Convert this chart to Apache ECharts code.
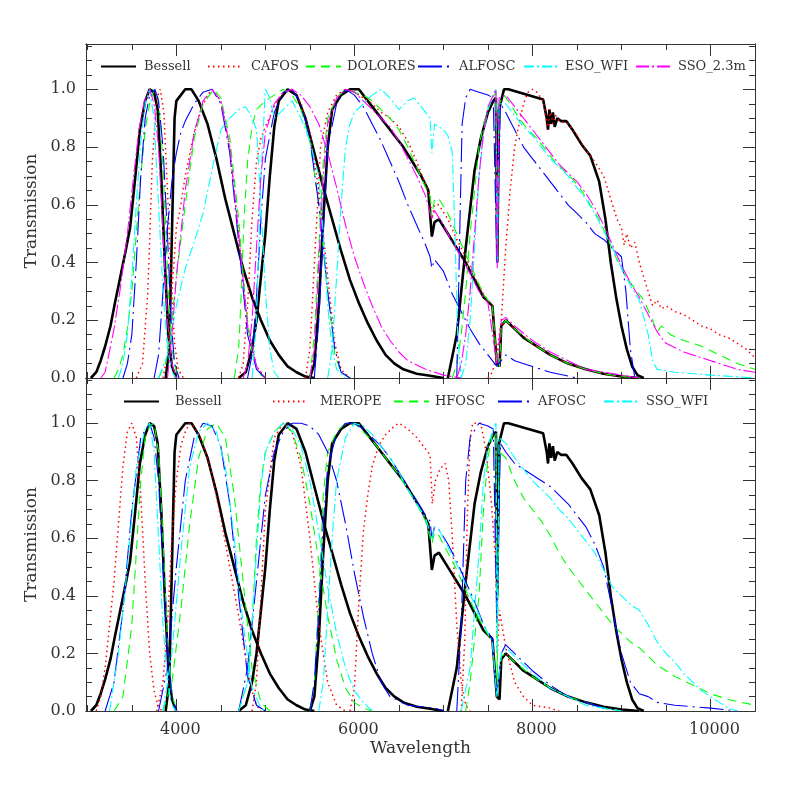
<!DOCTYPE html>
<html><head><meta charset="utf-8">
<script src="https://cdn.jsdelivr.net/npm/echarts@6/dist/echarts.min.js"></script>
<style>html,body{margin:0;padding:0;background:#fff}#c{width:797px;height:797px}</style>
</head><body><div id="c"></div><script>
// ---------- Bessell (both panels) ----------
const bessU=[[3040,0],[3100,0.02],[3150,0.06],[3200,0.11],[3260,0.18],[3310,0.26],[3370,0.35],[3430,0.44],[3480,0.52],[3540,0.70],[3590,0.86],[3650,0.96],[3700,1.0],[3750,0.99],[3790,0.93],[3830,0.7],[3870,0.4],[3910,0.15],[3950,0.04],[4000,0]];
const bessB=[[3880,0],[3920,0.1],[3950,0.5],[3980,0.9],[4000,0.96],[4050,0.98],[4100,1.0],[4170,1.0],[4250,0.96],[4350,0.88],[4450,0.76],[4550,0.62],[4650,0.5],[4750,0.38],[4850,0.28],[4950,0.2],[5050,0.13],[5150,0.08],[5250,0.04],[5350,0.02],[5450,0.005],[5550,0]];
const bessV=[[4700,0],[4780,0.02],[4850,0.1],[4900,0.2],[4950,0.35],[5000,0.5],[5050,0.7],[5100,0.87],[5150,0.96],[5250,1.0],[5350,0.98],[5450,0.9],[5550,0.78],[5650,0.66],[5750,0.55],[5850,0.44],[5950,0.34],[6050,0.26],[6150,0.19],[6250,0.13],[6350,0.08],[6450,0.05],[6550,0.03],[6700,0.015],[6850,0.008],[7000,0]];
const bessR=[[5500,0],[5550,0.05],[5600,0.25],[5650,0.55],[5700,0.8],[5750,0.93],[5850,0.98],[5950,1.0],[6050,1.0],[6150,0.96],[6250,0.92],[6350,0.88],[6450,0.84],[6550,0.8],[6650,0.75],[6750,0.7],[6830,0.65],[6870,0.49],[6900,0.54],[6950,0.55],[7050,0.5],[7150,0.45],[7250,0.4],[7350,0.34],[7450,0.28],[7550,0.25],[7600,0.05],[7630,0.04],[7650,0.18],[7700,0.2],[7800,0.17],[7900,0.14],[8000,0.12],[8200,0.08],[8400,0.05],[8600,0.03],[8800,0.015],[9000,0.005],[9200,0]];
const bessI=[[7050,0],[7150,0.15],[7250,0.45],[7350,0.72],[7420,0.83],[7500,0.92],[7560,0.96],[7590,0.97],[7605,0.4],[7625,0.93],[7680,1.0],[7730,1.0],[8120,0.965],[8160,0.9],[8175,0.86],[8190,0.93],[8210,0.88],[8230,0.92],[8250,0.87],[8280,0.9],[8320,0.89],[8380,0.89],[8450,0.86],[8550,0.81],[8650,0.77],[8750,0.68],[8820,0.55],[8880,0.4],[8940,0.28],[9000,0.18],[9060,0.1],[9120,0.04],[9180,0.01],[9250,0]];
// ---------- CAFOS ----------
const cafU=[[3550,0],[3620,0.05],[3680,0.3],[3730,0.75],[3780,0.97],[3820,1.0],[3860,0.92],[3900,0.65],[3940,0.35],[3980,0.12],[4020,0.03],[4080,0]];
const cafB=[[3850,0],[3900,0.08],[3950,0.3],[4000,0.52],[4050,0.6],[4100,0.7],[4200,0.85],[4300,0.95],[4400,1.0],[4500,0.96],[4600,0.8],[4700,0.5],[4800,0.18],[4900,0.04],[5000,0]];
const cafV=[[4700,0],[4750,0.05],[4800,0.25],[4850,0.55],[4900,0.75],[4950,0.83],[5000,0.87],[5100,0.94],[5200,0.99],[5300,1.0],[5400,0.95],[5500,0.85],[5600,0.65],[5700,0.35],[5780,0.12],[5850,0.03],[5950,0]];
const cafR=[[5450,0],[5500,0.1],[5560,0.45],[5620,0.8],[5700,0.92],[5800,0.98],[5900,1.0],[6000,0.99],[6100,0.97],[6200,0.95],[6300,0.92],[6400,0.9],[6500,0.87],[6600,0.82],[6700,0.75],[6800,0.67],[6850,0.63],[6870,0.55],[6900,0.6],[6950,0.6],[7050,0.55],[7150,0.48],[7250,0.42],[7350,0.35],[7450,0.29],[7550,0.25],[7600,0.05],[7630,0.04],[7650,0.18],[7700,0.2],[7800,0.17],[8000,0.12],[8200,0.08],[8400,0.05],[8600,0.03],[8800,0.015],[9000,0.005],[9200,0]];
const cafI=[[7500,0],[7550,0.02],[7600,0.08],[7650,0.2],[7700,0.45],[7750,0.65],[7800,0.8],[7850,0.88],[7900,0.95],[7950,0.99],[8000,1.0],[8050,0.99],[8120,0.96],[8175,0.86],[8200,0.93],[8230,0.88],[8260,0.91],[8300,0.89],[8400,0.88],[8500,0.84],[8600,0.79],[8700,0.75],[8800,0.7],[8900,0.6],[8950,0.55],[9000,0.52],[9030,0.46],[9060,0.5],[9100,0.45],[9150,0.47],[9200,0.4],[9250,0.35],[9300,0.3],[9350,0.25],[9400,0.27],[9450,0.24],[9500,0.25],[9600,0.23],[9700,0.22],[9800,0.2],[9900,0.18],[10000,0.17],[10100,0.15],[10200,0.14],[10300,0.12],[10400,0.1],[10500,0.07]];
// ---------- DOLORES ----------
const dolU=[[3300,0],[3350,0.03],[3400,0.08],[3450,0.17],[3500,0.3],[3550,0.5],[3600,0.7],[3650,0.86],[3700,0.95],[3750,1.0],[3790,0.98],[3830,0.85],[3870,0.6],[3910,0.3],[3950,0.1],[4000,0.02],[4050,0]];
const dolB=[[3800,0],[3880,0.05],[3950,0.2],[4000,0.35],[4100,0.6],[4200,0.83],[4300,0.95],[4420,1.0],[4500,0.97],[4600,0.83],[4700,0.55],[4780,0.25],[4850,0.08],[4950,0.01],[5000,0]];
const dolV=[[4650,0],[4700,0.1],[4730,0.3],[4760,0.55],[4800,0.75],[4850,0.87],[4900,0.93],[5000,0.96],[5100,0.98],[5200,1.0],[5300,0.98],[5400,0.93],[5500,0.82],[5600,0.6],[5700,0.3],[5780,0.08],[5850,0.02],[5950,0]];
const dolR=[[5500,0],[5550,0.15],[5600,0.45],[5650,0.75],[5700,0.9],[5800,0.97],[5900,1.0],[6000,0.99],[6100,0.98],[6200,0.96],[6300,0.93],[6400,0.9],[6500,0.86],[6600,0.8],[6700,0.73],[6800,0.66],[6850,0.63],[6870,0.56],[6900,0.62],[6950,0.62],[7050,0.57],[7150,0.5],[7250,0.43],[7350,0.36],[7450,0.29],[7550,0.25],[7600,0.05],[7630,0.04],[7650,0.18],[7700,0.2],[7800,0.17],[8000,0.12],[8200,0.08],[8400,0.05],[8600,0.03],[8800,0.015],[9000,0.005],[9200,0]];
const dolI=[[7100,0],[7150,0.05],[7200,0.15],[7250,0.3],[7300,0.5],[7350,0.65],[7400,0.8],[7450,0.88],[7500,0.93],[7550,0.97],[7590,0.99],[7605,0.4],[7625,0.95],[7680,0.98],[7750,0.95],[7850,0.9],[7950,0.86],[8050,0.83],[8150,0.79],[8250,0.75],[8350,0.72],[8450,0.69],[8550,0.65],[8650,0.6],[8750,0.55],[8850,0.48],[8950,0.41],[9050,0.35],[9150,0.31],[9250,0.27],[9350,0.2],[9400,0.16],[9450,0.18],[9550,0.15],[9700,0.13],[9900,0.11],[10100,0.08],[10300,0.05],[10500,0.03]];
// ---------- ALFOSC ----------
const alfU=[[3400,0],[3450,0.05],[3500,0.15],[3550,0.4],[3600,0.7],[3650,0.9],[3700,0.98],[3760,1.0],[3800,0.96],[3850,0.8],[3900,0.5],[3940,0.2],[3980,0.05],[4030,0]];
const alfB=[[3750,0],[3800,0.08],[3850,0.3],[3900,0.52],[3950,0.68],[4000,0.78],[4050,0.85],[4100,0.89],[4200,0.95],[4300,0.99],[4400,1.0],[4500,0.95],[4600,0.78],[4700,0.47],[4800,0.15],[4900,0.03],[5000,0]];
const alfV=[[4800,0],[4850,0.08],[4900,0.28],[4950,0.55],[5000,0.76],[5100,0.92],[5200,0.99],[5300,1.0],[5400,0.95],[5500,0.83],[5600,0.6],[5700,0.3],[5780,0.1],[5850,0.02],[5950,0]];
const alfR=[[5550,0],[5600,0.2],[5650,0.5],[5700,0.8],[5800,0.95],[5900,1.0],[6000,0.98],[6100,0.94],[6200,0.88],[6300,0.82],[6400,0.75],[6500,0.68],[6600,0.6],[6700,0.53],[6800,0.46],[6850,0.42],[6870,0.38],[6900,0.41],[7000,0.37],[7100,0.29],[7200,0.23],[7300,0.17],[7400,0.12],[7500,0.08],[7600,0.04],[7700,0.08],[7800,0.06],[8000,0.04],[8200,0.02],[8500,0]];
const alfI=[[7150,0],[7170,0.3],[7190,0.6],[7210,0.88],[7250,0.97],[7300,1.0],[7400,0.99],[7500,0.98],[7560,0.97],[7600,0.4],[7640,0.95],[7700,0.92],[7800,0.86],[7900,0.8],[8000,0.76],[8100,0.72],[8200,0.68],[8300,0.64],[8400,0.6],[8500,0.57],[8600,0.54],[8700,0.5],[8800,0.48],[8900,0.45],[9000,0.42],[9050,0.3],[9100,0.1],[9150,0]];
// ---------- ESO_WFI ----------
const esoU=[[3350,0],[3400,0.05],[3450,0.15],[3500,0.35],[3550,0.6],[3600,0.82],[3650,0.95],[3700,1.0],[3750,0.9],[3800,0.6],[3850,0.3],[3900,0.1],[3950,0.02],[4000,0]];
const esoB=[[3800,0],[3900,0.08],[4000,0.25],[4100,0.38],[4200,0.47],[4300,0.57],[4400,0.72],[4500,0.86],[4600,0.9],[4700,0.93],[4780,0.94],[4850,0.9],[4900,0.86],[4950,0.6],[5000,0.3],[5050,0.1],[5100,0.02],[5150,0]];
const esoV=[[4850,0],[4900,0.2],[4950,0.7],[5000,1.0],[5050,0.97],[5100,0.9],[5200,0.93],[5300,0.96],[5400,0.9],[5500,0.82],[5600,0.7],[5650,0.5],[5700,0.25],[5750,0.1],[5800,0.03],[5900,0]];
const esoR=[[5700,0],[5750,0.1],[5800,0.35],[5850,0.6],[5900,0.8],[5950,0.88],[6000,0.92],[6100,0.95],[6200,0.98],[6300,1.0],[6400,0.97],[6500,0.93],[6600,0.96],[6670,0.97],[6750,0.94],[6850,0.9],[6870,0.78],[6900,0.88],[7000,0.86],[7050,0.84],[7100,0.78],[7130,0.5],[7160,0.15],[7200,0]];
const esoI=[[7200,0],[7250,0.05],[7300,0.2],[7350,0.45],[7400,0.7],[7450,0.85],[7500,0.93],[7560,0.98],[7590,1.0],[7605,0.4],[7625,0.95],[7700,0.95],[7800,0.91],[7900,0.87],[8000,0.84],[8100,0.8],[8200,0.76],[8300,0.73],[8400,0.7],[8500,0.66],[8600,0.62],[8700,0.57],[8800,0.51],[8900,0.45],[9000,0.38],[9100,0.32],[9200,0.27],[9300,0.15],[9350,0.06],[9400,0.03],[9600,0.02],[10000,0.01],[10500,0]];
// ---------- SSO_2.3m ----------
const ssoU=[[3150,0],[3200,0.02],[3300,0.17],[3370,0.31],[3450,0.5],[3520,0.7],[3580,0.86],[3640,0.96],[3700,1.0],[3750,0.95],[3800,0.8],[3850,0.5],[3900,0.2],[3950,0.05],[4000,0]];
const ssoB=[[3900,0],[3950,0.15],[4000,0.35],[4100,0.65],[4200,0.85],[4300,0.96],[4400,1.0],[4500,0.96],[4600,0.8],[4700,0.5],[4800,0.18],[4900,0.04],[5000,0]];
const ssoV=[[4750,0],[4800,0.05],[4850,0.2],[4900,0.45],[4950,0.7],[5000,0.85],[5100,0.95],[5200,0.99],[5300,1.0],[5400,0.98],[5500,0.94],[5600,0.88],[5700,0.78],[5800,0.66],[5900,0.53],[6000,0.42],[6100,0.33],[6200,0.25],[6300,0.18],[6400,0.13],[6500,0.09],[6600,0.06],[6800,0.03],[7000,0.01],[7200,0]];
const ssoR=[[5500,0],[5550,0.1],[5600,0.4],[5650,0.7],[5700,0.88],[5800,0.97],[5900,1.0],[6000,0.99],[6100,0.96],[6200,0.93],[6300,0.9],[6400,0.87],[6500,0.82],[6600,0.76],[6700,0.7],[6800,0.63],[6870,0.55],[6900,0.58],[7000,0.53],[7100,0.47],[7200,0.42],[7300,0.36],[7400,0.3],[7500,0.26],[7600,0.05],[7650,0.2],[7700,0.21],[7800,0.18],[8000,0.13],[8200,0.09],[8400,0.06],[8600,0.03],[8800,0.02],[9000,0.01],[9200,0]];
const ssoI=[[7150,0],[7200,0.05],[7250,0.15],[7300,0.3],[7350,0.5],[7400,0.7],[7450,0.85],[7500,0.94],[7560,0.98],[7590,1.0],[7605,0.38],[7625,0.97],[7700,0.98],[7800,0.94],[7900,0.9],[8000,0.86],[8100,0.82],[8200,0.78],[8300,0.74],[8400,0.71],[8500,0.68],[8600,0.64],[8700,0.59],[8800,0.53],[8900,0.46],[9000,0.39],[9100,0.33],[9200,0.28],[9300,0.22],[9400,0.16],[9500,0.12],[9700,0.09],[9900,0.07],[10100,0.05],[10300,0.03],[10500,0.02]];
// ---------- MEROPE ----------
const merU=[[3100,0],[3150,0.05],[3200,0.15],[3300,0.45],[3400,0.85],[3450,0.97],[3500,1.0],[3550,0.95],[3600,0.75],[3650,0.45],[3700,0.2],[3750,0.07],[3800,0.01],[3850,0]];
const merB=[[3780,0],[3850,0.1],[3900,0.3],[3950,0.6],[4000,0.8],[4050,0.92],[4100,0.97],[4150,1.0],[4200,0.99],[4300,0.93],[4400,0.82],[4500,0.67],[4600,0.5],[4700,0.33],[4800,0.15],[4850,0.07],[4900,0.02],[4950,0]];
const merV=[[4850,0],[4900,0.1],[4950,0.4],[5000,0.7],[5100,0.95],[5200,1.0],[5300,0.97],[5400,0.85],[5500,0.6],[5600,0.3],[5700,0.1],[5800,0.02],[5900,0]];
const merR=[[5950,0],[6000,0.08],[6050,0.38],[6100,0.62],[6150,0.75],[6200,0.85],[6270,0.92],[6350,0.96],[6450,0.99],[6500,1.0],[6600,0.98],[6700,0.95],[6800,0.91],[6850,0.89],[6875,0.72],[6910,0.8],[6960,0.84],[7020,0.86],[7060,0.8],[7100,0.6],[7150,0.3],[7200,0.1],[7250,0.02],[7300,0]];
const merI=[[7200,0],[7240,0.25],[7270,0.7],[7300,0.95],[7330,1.0],[7420,1.0],[7480,0.9],[7540,0.72],[7590,0.5],[7605,0.2],[7630,0.35],[7700,0.22],[7800,0.1],[7900,0.05],[8000,0.02],[8200,0.01],[8300,0]];
// ---------- HFOSC ----------
const hfU=[[3300,0],[3400,0.05],[3500,0.3],[3550,0.55],[3600,0.8],[3650,0.95],[3700,0.99],[3750,1.0],[3800,0.9],[3850,0.6],[3900,0.25],[3950,0.06],[4000,0]];
const hfB=[[3850,0],[3950,0.1],[4050,0.35],[4150,0.65],[4250,0.88],[4350,0.98],[4450,1.0],[4550,0.95],[4650,0.75],[4750,0.45],[4850,0.15],[4950,0.03],[5050,0]];
const hfV=[[4700,0],[4800,0.1],[4850,0.3],[4900,0.6],[4950,0.8],[5000,0.9],[5100,0.97],[5200,1.0],[5300,0.97],[5400,0.88],[5500,0.72],[5600,0.52],[5700,0.33],[5800,0.18],[5900,0.08],[6000,0.03],[6100,0.01],[6200,0]];
const hfR=[[5500,0],[5550,0.1],[5600,0.4],[5650,0.75],[5700,0.9],[5800,0.97],[5900,1.0],[6000,1.0],[6100,0.97],[6200,0.94],[6300,0.9],[6400,0.86],[6500,0.82],[6600,0.77],[6700,0.72],[6800,0.66],[6870,0.58],[6900,0.62],[6950,0.61],[7050,0.55],[7150,0.49],[7250,0.42],[7350,0.35],[7450,0.29],[7550,0.24],[7600,0.05],[7650,0.19],[7700,0.2],[7800,0.17],[8000,0.12],[8200,0.08],[8400,0.05],[8600,0.03],[8800,0.01],[9000,0]];
const hfI=[[7250,0],[7300,0.1],[7400,0.4],[7450,0.7],[7500,0.88],[7550,0.96],[7590,0.97],[7605,0.1],[7625,0.9],[7700,0.88],[7800,0.8],[7900,0.74],[8000,0.7],[8100,0.66],[8200,0.61],[8300,0.55],[8400,0.5],[8500,0.46],[8600,0.42],[8700,0.38],[8800,0.34],[8900,0.3],[9000,0.27],[9100,0.24],[9200,0.22],[9300,0.19],[9400,0.16],[9600,0.12],[9800,0.09],[10000,0.06],[10200,0.04],[10500,0.02]];
// ---------- AFOSC ----------
const afU=[[3200,0],[3300,0.1],[3400,0.35],[3500,0.7],[3600,0.95],[3700,1.0],[3750,0.95],[3800,0.8],[3850,0.5],[3900,0.2],[3950,0.05],[4000,0]];
const afB=[[3800,0],[3900,0.15],[4000,0.5],[4100,0.8],[4200,0.95],[4300,1.0],[4400,0.99],[4500,0.92],[4600,0.72],[4700,0.4],[4800,0.12],[4900,0.02],[5000,0]];
const afV=[[4700,0],[4800,0.15],[4900,0.45],[5000,0.75],[5100,0.9],[5200,0.97],[5300,1.0],[5400,1.0],[5500,0.99],[5600,0.96],[5700,0.9],[5800,0.8],[5900,0.65],[6000,0.48],[6100,0.33],[6200,0.2],[6300,0.1],[6400,0.05],[6600,0.02],[6900,0.01],[7000,0]];
const afR=[[5500,0],[5550,0.1],[5600,0.35],[5650,0.65],[5700,0.85],[5800,0.96],[5900,1.0],[6000,1.0],[6100,0.98],[6200,0.95],[6300,0.92],[6400,0.88],[6500,0.83],[6600,0.78],[6700,0.73],[6800,0.68],[6850,0.66],[6870,0.6],[6900,0.64],[6950,0.63],[7050,0.58],[7150,0.52],[7250,0.45],[7350,0.38],[7450,0.3],[7550,0.25],[7600,0.05],[7650,0.2],[7700,0.23],[7800,0.2],[8000,0.14],[8200,0.09],[8400,0.05],[8600,0.03],[8800,0.01],[9000,0]];
const afI=[[7150,0],[7200,0.3],[7250,0.8],[7300,0.95],[7400,1.0],[7500,0.99],[7560,0.98],[7600,0.3],[7640,0.93],[7700,0.9],[7800,0.86],[7900,0.84],[8000,0.82],[8100,0.8],[8200,0.78],[8300,0.75],[8400,0.72],[8500,0.68],[8600,0.64],[8700,0.58],[8800,0.5],[8900,0.35],[9000,0.2],[9100,0.1],[9200,0.06],[9300,0.05],[9400,0.03],[9600,0.02],[10000,0.01],[10300,0]];
// ---------- SSO_WFI ----------
const sswU=[[3250,0],[3350,0.2],[3450,0.5],[3550,0.85],[3650,0.98],[3700,1.0],[3750,0.9],[3800,0.6],[3850,0.3],[3900,0.1],[3950,0.02],[4000,0]];
const sswB=[[3850,0],[3950,0.2],[4050,0.55],[4150,0.85],[4250,0.97],[4350,1.0],[4450,0.97],[4550,0.85],[4650,0.6],[4750,0.3],[4850,0.08],[4950,0.01],[5000,0]];
const sswV=[[4700,0],[4800,0.1],[4850,0.3],[4900,0.55],[4950,0.78],[5000,0.9],[5100,0.97],[5200,1.0],[5300,0.98],[5400,0.92],[5500,0.8],[5600,0.62],[5700,0.43],[5800,0.27],[5900,0.15],[6000,0.07],[6100,0.03],[6200,0]];
const sswR=[[5600,0],[5650,0.1],[5700,0.35],[5750,0.6],[5800,0.8],[5900,0.95],[6000,1.0],[6100,0.99],[6200,0.96],[6300,0.92],[6400,0.88],[6500,0.83],[6600,0.77],[6700,0.72],[6800,0.67],[6870,0.6],[6900,0.64],[6950,0.63],[7050,0.57],[7150,0.51],[7250,0.44],[7350,0.37],[7450,0.3],[7550,0.24],[7600,0.05],[7650,0.2],[7700,0.22],[7800,0.19],[8000,0.13],[8200,0.08],[8400,0.05],[8600,0.02],[8800,0.01],[9000,0]];
const sswI=[[7200,0],[7300,0.15],[7400,0.55],[7450,0.8],[7500,0.92],[7560,0.98],[7590,1.0],[7605,0.2],[7625,0.95],[7700,0.93],[7800,0.88],[7900,0.84],[8000,0.8],[8100,0.77],[8200,0.74],[8300,0.7],[8400,0.67],[8500,0.63],[8600,0.59],[8700,0.55],[8800,0.49],[8900,0.43],[9000,0.4],[9100,0.37],[9200,0.35],[9300,0.3],[9400,0.24],[9500,0.2],[9600,0.17],[9700,0.13],[9800,0.1],[9900,0.07],[10000,0.05],[10100,0.03],[10200,0.01],[10300,0]];

// ---------- tick values ----------
const xMajorTicks=[4000,6000,8000,10000];
const xMinorTicks=[3000,3500,4500,5000,5500,6500,7000,7500,8500,9000,9500,10500];
const yMajorTicks=[0,0.2,0.4,0.6,0.8,1.0];
const yMinorTicks=[0.05,0.1,0.15,0.25,0.3,0.35,0.45,0.5,0.55,0.65,0.7,0.75,0.85,0.9,0.95,1.05,1.1,1.15];

const XMIN=2985, XMAX=10500, YMAX=1.157;
const FONT='DejaVu Serif';
const AX='#333';

const systems=[
  {name:'Bessell',grid:0,color:'#000',width:2.6,dash:'solid',bands:[bessU,bessB,bessV,bessR,bessI]},
  {name:'CAFOS',grid:0,color:'#ff0000',width:1.5,dash:[1.5,3.5],bands:[cafU,cafB,cafV,cafR,cafI]},
  {name:'DOLORES',grid:0,color:'#00ff00',width:1.1,dash:[9,6],bands:[dolU,dolB,dolV,dolR,dolI]},
  {name:'ALFOSC',grid:0,color:'#0000ff',width:1.1,dash:[24,5,2,5],bands:[alfU,alfB,alfV,alfR,alfI]},
  {name:'ESO_WFI',grid:0,color:'#00ffff',width:1.1,dash:[10,3,2,3],bands:[esoU,esoB,esoV,esoR,esoI]},
  {name:'SSO_2.3m',grid:0,color:'#ff00ff',width:1.1,dash:[13,3,2,3],bands:[ssoU,ssoB,ssoV,ssoR,ssoI]},
  {name:'Bessell',grid:1,color:'#000',width:2.6,dash:'solid',bands:[bessU,bessB,bessV,bessR,bessI]},
  {name:'MEROPE',grid:1,color:'#ff0000',width:1.5,dash:[1.5,3.5],bands:[merU,merB,merV,merR,merI]},
  {name:'HFOSC',grid:1,color:'#00ff00',width:1.1,dash:[9,6],bands:[hfU,hfB,hfV,hfR,hfI]},
  {name:'AFOSC',grid:1,color:'#0000ff',width:1.1,dash:[24,5,2,5],bands:[afU,afB,afV,afR,afI]},
  {name:'SSO_WFI',grid:1,color:'#00ffff',width:1.1,dash:[10,3,2,3],bands:[sswU,sswB,sswV,sswR,sswI]}
];

const grids=[
  {left:86,top:44,width:669,height:334},
  {left:86,top:378,width:669,height:333}
];

function xAx(g,pos,ticks,len,labels){
  return {type:'value',gridIndex:g,position:pos,min:XMIN,max:XMAX,
    axisLine:{show:true,onZero:false,lineStyle:{color:AX,width:1}},
    axisTick:{show:true,inside:true,length:len,customValues:ticks,lineStyle:{color:AX,width:1}},
    axisLabel:{show:labels,customValues:ticks,margin:11,color:'#333',fontFamily:FONT,fontSize:16,padding:[0,0,0,8],formatter:v=>String(v)},
    splitLine:{show:false}};
}
function yAx(g,pos,ticks,len,labels){
  return {type:'value',gridIndex:g,position:pos,min:0,max:YMAX,
    axisLine:{show:true,onZero:false,lineStyle:{color:AX,width:1}},
    axisTick:{show:true,inside:true,length:len,customValues:ticks,lineStyle:{color:AX,width:1}},
    axisLabel:{show:labels,customValues:ticks,margin:10,color:'#333',fontFamily:FONT,fontSize:16,formatter:v=>v.toFixed(1)},
    splitLine:{show:false}};
}
const xAxes=[], yAxes=[];
for(let g=0;g<2;g++){
  const xb=xAx(g,'bottom',xMajorTicks,12,g===1);
  if(g===1){xb.name='Wavelength';xb.nameLocation='middle';xb.nameGap=29;xb.nameTextStyle={fontFamily:FONT,fontSize:17,color:'#333'};}
  xAxes.push(xb, xAx(g,'bottom',xMinorTicks,6,false), xAx(g,'top',xMajorTicks,12,false), xAx(g,'top',xMinorTicks,6,false));
  const yl=yAx(g,'left',yMajorTicks,12,true);
  yl.name='Transmission';yl.nameLocation='middle';yl.nameGap=43;yl.nameTextStyle={fontFamily:FONT,fontSize:17,color:'#333'};
  yAxes.push(yl, yAx(g,'left',yMinorTicks,6,false), yAx(g,'right',yMajorTicks,12,false), yAx(g,'right',yMinorTicks,6,false));
}

const series=[];
systems.forEach(s=>{
  s.bands.forEach(b=>{
    series.push({type:'line',name:s.name,xAxisIndex:s.grid*4,yAxisIndex:s.grid*4,data:b,
      symbol:'none',smooth:false,silent:true,clip:true,
      lineStyle:{color:s.color,width:s.width,type:s.dash,cap:'butt'},itemStyle:{color:s.color}});
  });
});

// [name, icon left, top, text offset]
const legendPos=[
  ['Bessell',100,60,3],['CAFOS',207,60,3],['DOLORES',305,60,1],['ALFOSC',417,60,1],['ESO_WFI',523,60,1],['SSO_2.3m',635,60,2],
  ['Bessell',123,395,11],['MEROPE',272,395,7],['HFOSC',393,395,1],['AFOSC',497,395,0],['SSO_WFI',603,395,2]
];
const legends=legendPos.map(p=>({data:[p[0]],left:p[1],top:p[2],padding:0,itemWidth:35,itemHeight:14,
  selectedMode:false,itemStyle:{opacity:0,borderWidth:0},
  textStyle:{fontFamily:FONT,fontSize:13,color:'#333',padding:[0,0,0,p[3]]}}));

const chart=echarts.init(document.getElementById('c'),null,{renderer:'canvas'});
chart.setOption({animation:false,backgroundColor:'#fff',grid:grids,xAxis:xAxes,yAxis:yAxes,legend:legends,series:series});
</script></body></html>
